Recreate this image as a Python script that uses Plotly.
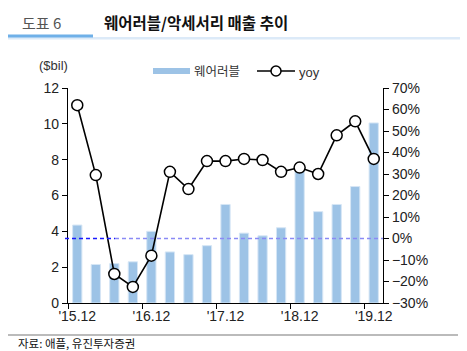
import plotly.graph_objects as go

quarters = ["'15.12", "'16.03", "'16.06", "'16.09", "'16.12", "'17.03", "'17.06", "'17.09",
            "'17.12", "'18.03", "'18.06", "'18.09", "'18.12", "'19.03", "'19.06", "'19.09", "'19.12"]
sales = [4.35, 2.15, 2.2, 2.3, 4.0, 2.85, 2.7, 3.2, 5.5, 3.9, 3.75, 4.2, 7.35, 5.1, 5.5, 6.5, 10.05]
yoy = [62.0, 29.5, -16.5, -22.5, -8.0, 31.0, 23.0, 36.0, 36.0, 37.0, 36.5, 31.0, 33.0, 30.0, 48.0, 54.5, 37.0]
label_ticks = ["'15.12", "'16.12", "'17.12", "'18.12", "'19.12"]

x = list(range(len(quarters)))
tickvals = [i for i, q in enumerate(quarters) if q in label_ticks]
boundaries = [v - 0.5 for v in tickvals]

fig = go.Figure()
fig.add_trace(go.Bar(x=x, y=sales, name="웨어러블", width=0.5,
                     marker=dict(color="#9DC3E6", line=dict(color="#D6E6F5", width=1)),
                     yaxis="y", showlegend=False))
fig.add_trace(go.Scatter(x=x, y=yoy, name="yoy", mode="lines+markers", yaxis="y2",
                         line=dict(color="black", width=1.6),
                         marker=dict(symbol="circle", size=11, color="white",
                                     line=dict(color="black", width=1.5)),
                         showlegend=False))

font_tick = dict(family="Liberation Sans, Arial", size=14, color="#222")

def px_x(p):
    return (p - 68) / 315.0

def px_y(p):
    return (303 - p) / 215.0

shapes = [
    # zero line (right axis) dashed
    dict(type="line", xref="paper", yref="y2", x0=px_x(65), x1=px_x(115), y0=0, y1=0,
         line=dict(color="#1a1aff", width=1.3, dash="4px,3px")),
    dict(type="line", xref="paper", yref="y2", x0=px_x(115), x1=1, y0=0, y1=0,
         line=dict(color="#8a8af5", width=1.6, dash="4px,3px")),
    # title underlines
    dict(type="rect", xref="paper", yref="paper", x0=px_x(8), x1=px_x(460), y0=px_y(39.5), y1=px_y(37),
         line=dict(width=0), fillcolor="#DCEAF8"),
    dict(type="rect", xref="paper", yref="paper", x0=px_x(8), x1=px_x(93), y0=px_y(37.5), y1=px_y(34.5),
         line=dict(width=0), fillcolor="#6FB0E8"),
    # bottom rule
    dict(type="line", xref="paper", yref="paper", x0=px_x(8), x1=px_x(458), y0=px_y(335), y1=px_y(335),
         line=dict(color="#BBBBBB", width=2)),
    # legend: bar swatch
    dict(type="rect", xref="paper", yref="paper", x0=px_x(153), x1=px_x(190), y0=px_y(74), y1=px_y(68),
         line=dict(width=0), fillcolor="#9DC3E6"),
    # legend: line
    dict(type="line", xref="paper", yref="paper", x0=px_x(257), x1=px_x(295), y0=px_y(71), y1=px_y(71),
         line=dict(color="black", width=1.6)),
    dict(type="circle", xref="paper", yref="paper", xsizemode="pixel", ysizemode="pixel",
         xanchor=px_x(276), yanchor=px_y(71), x0=-5, x1=5, y0=-5, y1=5,
         line=dict(color="black", width=1.5), fillcolor="white"),
]

annotations = [
    dict(text="도표 6", xref="paper", yref="paper", x=px_x(20), y=px_y(22), xanchor="left", yanchor="middle",
         showarrow=False, font=dict(family="Noto Sans CJK KR", size=15, color="#555")),
    dict(text="<b>웨어러블/악세서리 매출 추이</b>", xref="paper", yref="paper", x=px_x(102), y=px_y(22),
         xanchor="left", yanchor="middle", showarrow=False,
         font=dict(family="Noto Sans CJK KR", size=15.5, color="#111")),
    dict(text="($bil)", xref="paper", yref="paper", x=px_x(53), y=px_y(65), xanchor="center", yanchor="middle",
         showarrow=False, font=dict(family="Liberation Sans, Arial", size=13, color="#333")),
    dict(text="웨어러블", xref="paper", yref="paper", x=px_x(192), y=px_y(71), xanchor="left", yanchor="middle",
         showarrow=False, font=dict(family="Noto Sans CJK KR", size=12.5, color="#333")),
    dict(text="yoy", xref="paper", yref="paper", x=px_x(297), y=px_y(72), xanchor="left", yanchor="middle",
         showarrow=False, font=dict(family="Liberation Sans, Arial", size=13, color="#333")),
    dict(text="자료: 애플, 유진투자증권", xref="paper", yref="paper", x=px_x(17), y=px_y(342.5),
         xanchor="left", yanchor="middle", showarrow=False, borderpad=0,
         font=dict(family="Noto Sans CJK KR", size=11.5, color="#111")),
]

fig.update_layout(
    width=467, height=351,
    margin=dict(l=68, r=84, t=88, b=48),
    paper_bgcolor="white", plot_bgcolor="white",
    bargap=0.5,
    xaxis=dict(range=[-0.5, len(quarters) - 0.5], tickmode="array", tickvals=tickvals,
               ticktext=[quarters[i] for i in tickvals], ticks="", showgrid=False, zeroline=False,
               showline=True, linecolor="black", linewidth=1.2, tickfont=font_tick,
               minor=dict(tickmode="array", tickvals=boundaries, ticks="outside", ticklen=5,
                          tickcolor="black", tickwidth=1.2, showgrid=False)),
    yaxis=dict(range=[0, 12], dtick=2, ticks="outside", ticklen=5, tickcolor="black", tickwidth=1.2,
               showline=True, linecolor="black", linewidth=1.2, showgrid=False, zeroline=False,
               tickfont=font_tick),
    yaxis2=dict(range=[-30, 70], dtick=10, overlaying="y", side="right", ticksuffix="%",
                ticks="outside", ticklen=5, tickcolor="black", tickwidth=1.2,
                showline=True, linecolor="black", linewidth=1.2, showgrid=False, zeroline=False,
                tickfont=font_tick),
    shapes=shapes,
    annotations=annotations,
    showlegend=False,
)

fig.write_html("out.html")
